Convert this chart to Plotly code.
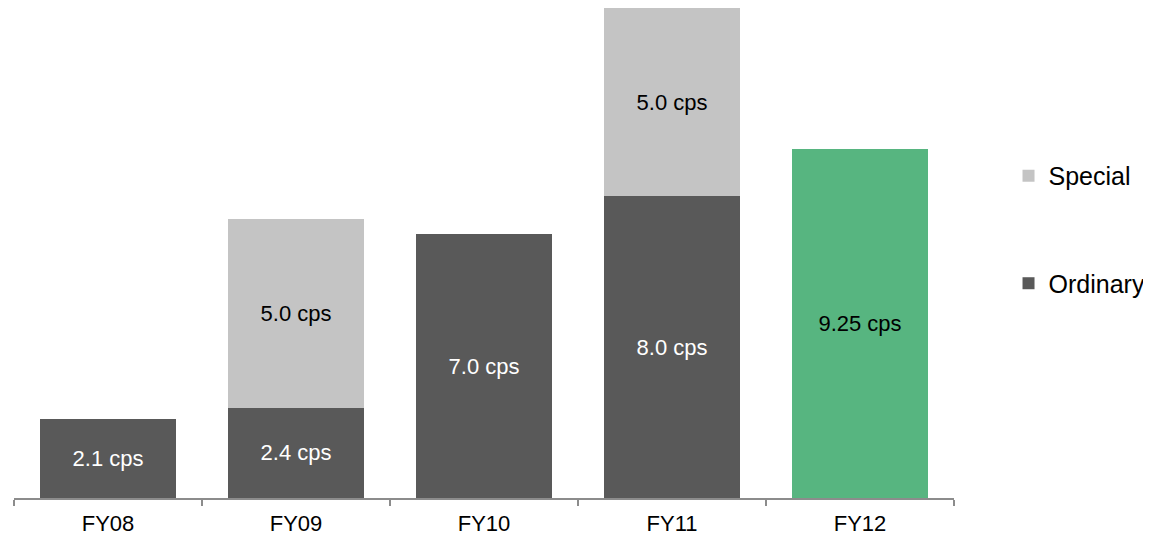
import plotly.graph_objects as go

categories = ["FY08", "FY09", "FY10", "FY11", "FY12"]
ordinary = [2.1, 2.4, 7.0, 8.0, 9.25]
special = [None, 5.0, None, 5.0, None]
ordinary_labels = ["2.1 cps", "2.4 cps", "7.0 cps", "8.0 cps", "9.25 cps"]
special_labels = ["", "5.0 cps", "", "5.0 cps", ""]

DARK = "#595959"
LIGHT = "#c4c4c4"
GREEN = "#57b580"
FONT = "Liberation Sans, Arial, sans-serif"

fig = go.Figure()
fig.add_trace(go.Bar(
    x=categories, y=ordinary, name="Ordinary", legendgroup="o", legendrank=2,
    marker=dict(color=[DARK, DARK, DARK, DARK, GREEN], line=dict(width=0)),
    text=ordinary_labels, textposition="inside", insidetextanchor="middle",
    textfont=dict(color=["white", "white", "white", "white", "black"], size=22, family=FONT),
    hoverinfo="skip",
))
fig.add_trace(go.Bar(
    x=categories, y=special, name="Special", legendgroup="s", legendrank=1,
    marker=dict(color=LIGHT, line=dict(width=0)),
    text=special_labels, textposition="inside", insidetextanchor="middle",
    textfont=dict(color="black", size=22, family=FONT),
    hoverinfo="skip",
))

# page body has an 8px margin, so the figure is sized/offset to compensate
fig.update_layout(
    width=1143, height=529,
    barmode="stack", bargap=0.277,
    plot_bgcolor="white", paper_bgcolor="white",
    margin=dict(l=6, r=197, t=0, b=39, autoexpand=False),
    font=dict(family=FONT, color="black"),
    showlegend=True,
    legend=dict(
        x=1.058, xanchor="left", y=0.548, yanchor="middle",
        traceorder="grouped", tracegroupgap=72,
        font=dict(size=25, color="black"),
        itemwidth=30, bgcolor="rgba(0,0,0,0)",
    ),
)
fig.update_xaxes(
    showline=True, linecolor="#8c8c8c", linewidth=2, automargin=False,
    ticks="outside", tickson="boundaries", ticklen=6, tickcolor="#8c8c8c", tickwidth=2,
    ticklabelstandoff=5,
    tickfont=dict(size=22, color="black"), showgrid=False,
)
fig.update_yaxes(
    range=[0, 13], visible=False, showgrid=False, zeroline=False, automargin=False,
)

fig.write_html("out.html")
